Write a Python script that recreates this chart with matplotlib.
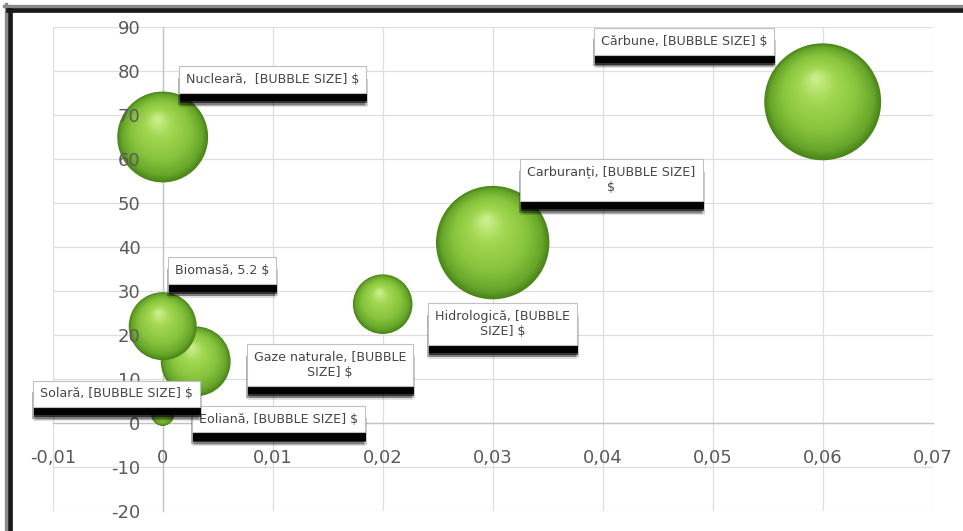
import numpy as np
import matplotlib
matplotlib.use("Agg")
import matplotlib.pyplot as plt
import matplotlib.patheffects as pe
from matplotlib.transforms import offset_copy
from matplotlib.colors import LinearSegmentedColormap
from matplotlib.ticker import FuncFormatter
from matplotlib.lines import Line2D

plt.rcParams["axes.unicode_minus"] = False

# --- data -------------------------------------------------------------
sources = ["Cărbune", "Carburanți", "Nucleară", "Gaze naturale",
           "Hidrologică", "Biomasă", "Eoliană", "Solară"]
x_vals = [0.06, 0.03, 0.0, 0.003, 0.02, 0.0, 0.0, 0.0]
y_vals = [73, 41, 65, 14, 27, 22, 1.5, 2]
bubble_sizes = [15.4, 14.5, 9.3, 5.5, 4.0, 5.2, 0.4, 0.6]

label_texts = [
    "Cărbune, [BUBBLE SIZE] $",
    "Carburanți, [BUBBLE SIZE]\n$",
    "Nucleară,  [BUBBLE SIZE] $",
    "Gaze naturale, [BUBBLE\nSIZE] $",
    "Hidrologică, [BUBBLE\nSIZE] $",
    "Biomasă, 5.2 $",
    "Eoliană, [BUBBLE SIZE] $",
    "Solară, [BUBBLE SIZE] $",
]
# label box centres (data coordinates)
label_pos = [(0.0474, 86.8), (0.0408, 55.2), (0.0100, 78.0), (0.0152, 13.2),
             (0.0309, 22.5), (0.0054, 34.7), (0.0105, 0.9), (-0.0042, 6.6)]

x_ticks = np.round(np.arange(-0.01, 0.0701, 0.01), 2)
y_ticks = np.arange(-20, 91, 10)

# --- figure -----------------------------------------------------------
W, H = 963, 531
fig = plt.figure(figsize=(W / 100, H / 100), dpi=100)
fig.patch.set_facecolor("white")
ax = fig.add_axes([52.7 / W, 1 - 511 / H, 880 / W, 484 / H])
ax.set_xlim(-0.01, 0.07)
ax.set_ylim(-20, 90)
ax.set_facecolor("white")

# grid drawn beneath everything
ax.vlines(x_ticks, -20, 90, colors="#dedede", lw=0.9, zorder=0.3)
ax.hlines(y_ticks, -0.01, 0.07, colors="#dedede", lw=0.9, zorder=0.3)

for s in ["top", "right"]:
    ax.spines[s].set_visible(False)
ax.spines["left"].set_position(("data", 0))
ax.spines["bottom"].set_position(("data", 0))
for s in ["left", "bottom"]:
    ax.spines[s].set_color("#c4c4c4")
    ax.spines[s].set_linewidth(1.0)
    ax.spines[s].set_zorder(0.4)

ax.set_axisbelow(False)
ax.set_xticks(x_ticks)
ax.set_yticks(y_ticks)


def comma_fmt(v, pos):
    if abs(v) < 1e-9:
        return "0"
    return f"{v:.2f}".replace(".", ",")


ax.xaxis.set_major_formatter(FuncFormatter(comma_fmt))
ax.tick_params(axis="both", length=0, labelsize=13, labelcolor="#5a5a5a")
ax.tick_params(axis="x", pad=18.5)
ax.tick_params(axis="y", pad=16)
for lab in ax.get_xticklabels() + ax.get_yticklabels():
    lab.set_fontfamily("DejaVu Sans")

# --- shaded spheres ---------------------------------------------------
sphere_cmap = LinearSegmentedColormap.from_list(
    "sphere", [(0.0, "#4a8619"), (0.1, "#66a52a"), (0.35, "#88c43d"),
               (0.7, "#a3d853"), (1.0, "#d2f396")])
BUBBLE_SCALE = 460.0  # marker area (pt^2) per unit of bubble size
n_layers = 45
for x, y, v in zip(x_vals, y_vals, bubble_sizes):
    area = BUBBLE_SCALE * v
    r_pt = np.sqrt(area) / 2.0
    for t in np.linspace(0, 0.93, n_layers):
        dx = t * (-0.12) * r_pt
        dy = t * 0.42 * r_pt
        tr = offset_copy(ax.transData, fig=fig, x=dx, y=dy, units="points")
        ax.scatter([x], [y], s=area * (1 - t) ** 2, color=sphere_cmap(t),
                   edgecolors="none", transform=tr, zorder=2)

# --- data labels with soft drop shadow --------------------------------
label_font = dict(fontsize=9.1, family="DejaVu Sans",
                  multialignment="center", ha="center", va="center")
# stacked shadows (offsets in points) give a blurred shadow edge
box_shadow = [
    pe.SimplePatchShadow(offset=(0.0, -10.0), shadow_rgbFace="black", alpha=0.12),
    pe.SimplePatchShadow(offset=(1.5, -9.0), shadow_rgbFace="black", alpha=0.2),
    pe.SimplePatchShadow(offset=(-0.7, -8.5), shadow_rgbFace="black", alpha=0.3),
    pe.SimplePatchShadow(offset=(0.7, -7.2), shadow_rgbFace="black", alpha=0.6),
    pe.SimplePatchShadow(offset=(0.7, -5.8), shadow_rgbFace="black", alpha=0.95),
    pe.Normal(),
]
for txt, (lx, ly) in zip(label_texts, label_pos):
    t = ax.text(lx, ly, txt, color="#474747", zorder=6,
                bbox=dict(boxstyle="square,pad=0.55", fc="white",
                          ec="#c0c0c0", lw=0.8), **label_font)
    t.get_bbox_patch().set_path_effects(box_shadow)

# --- outer frame ------------------------------------------------------
fig.add_artist(Line2D([5.5 / W, 5.5 / W], [0, 1 - 4 / H], color="#8a8a8a",
                      lw=2.4, transform=fig.transFigure))
fig.add_artist(Line2D([10 / W, 10 / W], [0, 1 - 8 / H], color="#1a1a1a",
                      lw=3.4, transform=fig.transFigure))
fig.add_artist(Line2D([4 / W, 1], [1 - 5.5 / H, 1 - 5.5 / H],
                      color="#8a8a8a", lw=2.4, transform=fig.transFigure))
fig.add_artist(Line2D([8 / W, 1], [1 - 10 / H, 1 - 10 / H],
                      color="#1a1a1a", lw=3.4, transform=fig.transFigure))

fig.savefig("out.png", dpi=100, facecolor="white")
